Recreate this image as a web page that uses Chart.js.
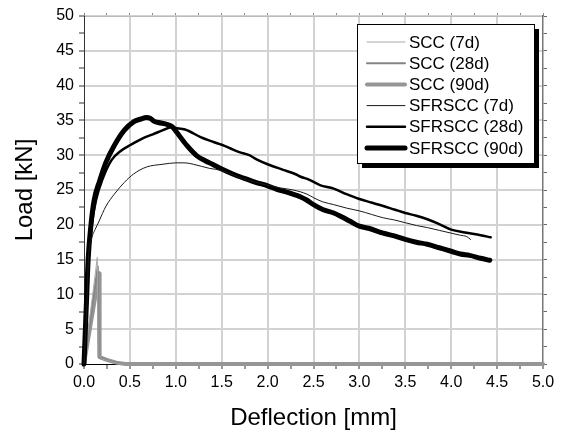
<!DOCTYPE html>
<html>
<head>
<meta charset="utf-8">
<script src="https://cdn.jsdelivr.net/npm/chart.js@4.4.1/dist/chart.umd.min.js"></script>
<style>
  html, body { margin: 0; padding: 0; background: #fff; }
  #wrap { width: 562px; height: 430px; }
</style>
</head>
<body>
<div id="wrap"><canvas id="loadChart"></canvas></div>
<script>
// deflection [mm] / load [kN]
const scc7X = [0, 0.145, 0.155, 0.2, 0.3, 0.4, 5];
const scc7Y = [0, 15.3, 1.2, 0.7, 0.3, 0, 0];
const scc28X = [0, 0.15, 0.16, 0.25, 0.4, 0.45, 5];
const scc28Y = [0, 14.0, 1.0, 0.5, 0.05, 0, 0];
const scc90X = [0, 0.165, 0.17, 0.25, 0.35, 0.45, 5];
const scc90Y = [0, 13.0, 1.0, 0.6, 0.2, 0, 0];

const sfr7X = [0, 0.02, 0.035, 0.05, 0.08, 0.12, 0.16, 0.2, 0.24, 0.33, 0.44, 0.54, 0.68, 0.86, 1.0, 1.1, 1.19, 1.37, 1.5, 1.62, 1.74, 1.87, 2.0, 2.14, 2.28, 2.43, 2.5, 2.6, 2.72, 2.86, 3.0, 3.13, 3.26, 3.38, 3.5, 3.62, 3.74, 3.87, 4.0, 4.1, 4.17, 4.21];
const sfr7Y = [0, 5, 10, 15.5, 17.9, 19.3, 20.4, 21.6, 22.7, 24.4, 26.1, 27.3, 28.3, 28.7, 28.9, 28.9, 28.7, 28.1, 27.8, 27.2, 26.6, 26.1, 25.7, 25.3, 25.0, 24.4, 23.9, 23.3, 22.9, 22.4, 22.0, 21.5, 21.0, 20.7, 20.3, 19.9, 19.6, 19.2, 18.8, 18.5, 18.3, 17.9];

const sfr28X = [0, 0.02, 0.035, 0.05, 0.085, 0.13, 0.2, 0.3, 0.4, 0.51, 0.65, 0.75, 0.86, 0.95, 1.0, 1.1, 1.27, 1.41, 1.5, 1.59, 1.7, 1.8, 1.88, 2.0, 2.17, 2.3, 2.36, 2.45, 2.57, 2.72, 2.86, 3.0, 3.13, 3.26, 3.38, 3.5, 3.62, 3.74, 3.87, 4.0, 4.15, 4.32, 4.43];
const sfr28Y = [0, 5, 10, 15, 20, 23.5, 26.5, 29.3, 30.6, 31.5, 32.5, 33.0, 33.6, 34.0, 33.9, 33.7, 32.6, 31.9, 31.5, 31.0, 30.4, 30.0, 29.4, 28.7, 27.9, 27.3, 26.9, 26.5, 25.7, 25.2, 24.4, 23.7, 23.2, 22.7, 22.2, 21.7, 21.3, 20.8, 20.1, 19.3, 18.9, 18.5, 18.2];

const sfr90X = [0, 0.015, 0.03, 0.045, 0.076, 0.11, 0.17, 0.24, 0.33, 0.44, 0.54, 0.62, 0.68, 0.72, 0.76, 0.81, 0.91, 0.96, 1.01, 1.12, 1.23, 1.32, 1.4, 1.5, 1.62, 1.74, 1.87, 2.0, 2.1, 2.21, 2.3, 2.36, 2.42, 2.5, 2.6, 2.72, 2.8, 2.9, 3.0, 3.1, 3.26, 3.38, 3.5, 3.62, 3.74, 3.87, 4.0, 4.1, 4.2, 4.32, 4.42];
const sfr90Y = [0, 5, 10, 15, 20, 23.5, 26.3, 29.0, 31.4, 33.6, 34.8, 35.2, 35.4, 35.3, 34.9, 34.7, 34.4, 34.1, 33.3, 31.4, 29.9, 29.2, 28.7, 28.0, 27.3, 26.7, 26.1, 25.6, 25.1, 24.7, 24.3, 24.0, 23.6, 22.9, 22.2, 21.7, 21.2, 20.5, 19.8, 19.5, 18.8, 18.4, 17.9, 17.5, 17.2, 16.7, 16.2, 15.8, 15.6, 15.2, 14.9];

const seriesNames = ["SCC (7d)", "SCC (28d)", "SCC (90d)", "SFRSCC (7d)", "SFRSCC (28d)", "SFRSCC (90d)"];

const xTickStep = 0.25;
const yTickStep = 2.5;

function pts(xs, ys) {
    return xs.map((x, i) => ({ x: x, y: ys[i] }));
}

function makeSet(name, xs, ys, color, width, smooth) {
    return {
        label: name,
        data: pts(xs, ys),
        borderColor: color,
        borderWidth: width,
        pointRadius: 0,
        fill: false,
        tension: 0,
        cubicInterpolationMode: smooth ? "monotone" : "default",
        borderJoinStyle: "round",
        borderCapStyle: "round",
        clip: 4,
        order: smooth ? 0 : 1,
    };
}

const fontFamily = "'Liberation Sans', Arial, sans-serif";

// legend with a drop shadow, drawn inside the plot area
const boxLegend = {
    id: "boxLegend",
    afterDraw(chart) {
        const ctx = chart.ctx;
        const area = chart.chartArea;
        const w = 177, h = 139;
        const left = area.right - 9 - w;
        const top = area.top + 8;
        ctx.save();
        ctx.fillStyle = "#000";
        ctx.fillRect(left + 5, top + 5, w, h);
        ctx.fillStyle = "#fff";
        ctx.fillRect(left, top, w, h);
        ctx.strokeStyle = "#000";
        ctx.lineWidth = 1;
        ctx.strokeRect(left + 0.5, top + 0.5, w, h);
        ctx.font = "17px " + fontFamily;
        ctx.textBaseline = "middle";
        ctx.textAlign = "left";
        chart.data.datasets.forEach((ds, i) => {
            const y = top + 18 + i * 21.2;
            ctx.beginPath();
            ctx.strokeStyle = ds.borderColor;
            ctx.lineWidth = ds.borderWidth;
            ctx.lineCap = "round";
            ctx.moveTo(left + 10, y);
            ctx.lineTo(left + 48, y);
            ctx.stroke();
            ctx.fillStyle = "#000";
            ctx.fillText(ds.label, left + 52, y + 1);
        });
        ctx.restore();
    },
};

function majorOnly(step) {
    return (v) => Math.abs(v / step - Math.round(v / step)) < 1e-6;
}
const isMajorX = majorOnly(0.5);
const isMajorY = majorOnly(5);

const data = {
    datasets: [
        makeSet(seriesNames[0], scc7X, scc7Y, "#a8a8a8", 1, false),
        makeSet(seriesNames[1], scc28X, scc28Y, "#858585", 2, false),
        makeSet(seriesNames[2], scc90X, scc90Y, "#959595", 4, false),
        makeSet(seriesNames[3], sfr7X, sfr7Y, "#1a1a1a", 1, true),
        makeSet(seriesNames[4], sfr28X, sfr28Y, "#000000", 2.5, true),
        makeSet(seriesNames[5], sfr90X, sfr90Y, "#000000", 5, true),
    ],
};

const config = {
    type: "line",
    data: data,
    options: {
        responsive: true,
        maintainAspectRatio: false,
        animation: false,
        layout: { padding: 0 },
        plugins: {
            legend: { display: false },
            tooltip: { enabled: false },
        },
        scales: {
            x: {
                type: "linear",
                position: "bottom",
                min: 0,
                max: 5,
                afterFit: (s) => { s.height = 66; },
                ticks: {
                    stepSize: xTickStep,
                    autoSkip: false,
                    maxRotation: 0,
                    padding: 4,
                    color: "#000",
                    font: { family: fontFamily, size: 16 },
                    callback: (v) => (isMajorX(v) ? v.toFixed(1) : ""),
                },
                grid: {
                    color: (c) => (c.tick && isMajorX(c.tick.value) && c.tick.value > 0 && c.tick.value < 5 ? "#d2d2d2" : "rgba(0,0,0,0)"),
                    lineWidth: 2,
                    tickLength: 5,
                    tickColor: "#333",
                    tickWidth: 1,
                },
                border: { color: "#000", width: 1 },
                title: {
                    display: true,
                    text: "Deflection [mm]",
                    color: "#000",
                    padding: { top: 0, bottom: -3 },
                    font: { family: fontFamily, size: 24 },
                },
            },
            xTop: {
                type: "linear",
                position: "top",
                min: 0,
                max: 5,
                afterFit: (s) => { s.height = 16; },
                ticks: { stepSize: xTickStep, autoSkip: false, display: false },
                grid: { drawOnChartArea: false, tickLength: 3, tickColor: "#888" },
                border: { color: "#bbb", width: 1 },
            },
            y: {
                type: "linear",
                position: "left",
                min: 0,
                max: 50,
                afterFit: (s) => { s.width = 84; },
                ticks: {
                    stepSize: yTickStep,
                    autoSkip: false,
                    padding: 5,
                    color: "#000",
                    font: { family: fontFamily, size: 16 },
                    callback: (v) => (isMajorY(v) ? String(v) : ""),
                },
                grid: {
                    color: (c) => (c.tick && isMajorY(c.tick.value) && c.tick.value > 0 ? "#d2d2d2" : "rgba(0,0,0,0)"),
                    lineWidth: 2,
                    tickLength: 5,
                    tickColor: "#333",
                    tickWidth: 1,
                },
                border: { color: "#333", width: 1 },
                title: {
                    display: true,
                    text: "Load [kN]",
                    color: "#000",
                    padding: { top: 11, bottom: 0 },
                    font: { family: fontFamily, size: 24 },
                },
            },
            yRight: {
                type: "linear",
                position: "right",
                min: 0,
                max: 50,
                afterFit: (s) => { s.width = 19; },
                ticks: { stepSize: yTickStep, autoSkip: false, display: false },
                grid: { drawOnChartArea: false, tickLength: 4, tickColor: "#666" },
                border: { color: "#777", width: 1.5 },
            },
        },
    },
    plugins: [boxLegend],
};

let loadChart = new Chart(document.getElementById("loadChart"), config);
</script>
</body>
</html>
